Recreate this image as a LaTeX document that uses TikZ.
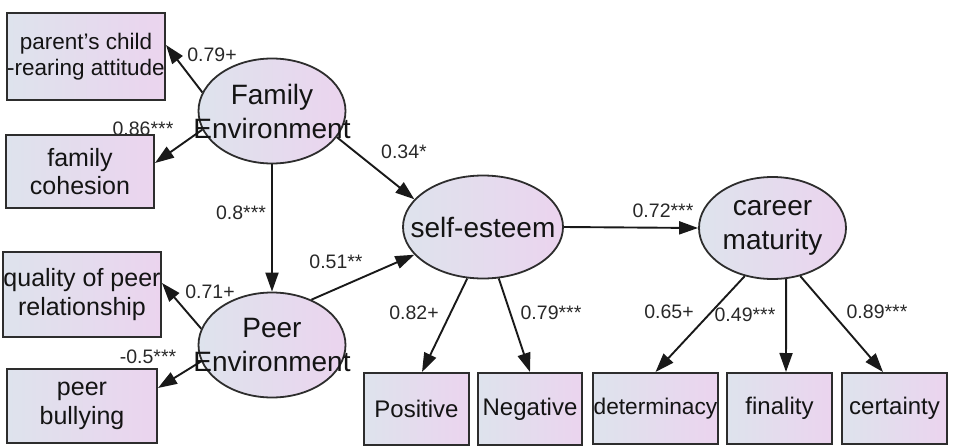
\documentclass[tikz,border=0pt]{standalone}
\usepackage{fontspec}
\setmainfont{Liberation Sans}
\usetikzlibrary{arrows.meta,shapes.geometric}
\definecolor{fillL}{RGB}{222,227,237}
\definecolor{fillR}{RGB}{235,212,238}
\definecolor{edge}{RGB}{45,45,45}
\definecolor{txt}{RGB}{20,20,20}
\definecolor{lbl}{RGB}{40,40,40}
\begin{document}
\begin{tikzpicture}[x=1pt,y=-1pt,
 obs/.style={draw=edge,line width=2pt,left color=fillL,right color=fillR,rectangle,inner sep=0pt,
   font=\fontsize{24}{28.5}\selectfont,text=txt,align=center},
 big/.style={font=\fontsize{25}{28.5}\selectfont},
 lat/.style={draw=edge,line width=1.8pt,left color=fillL,right color=fillR,ellipse,inner sep=0pt},
 lattext/.style={font=\fontsize{28}{34}\selectfont,text=txt,align=center,inner sep=0pt},
 coef/.style={font=\fontsize{19.5}{21}\selectfont,text=lbl,inner sep=0pt},
 arr/.style={draw=black!90,line width=1.9pt,-{Triangle[length=19pt,width=13pt]}}
]
\useasboundingbox (0,0) rectangle (953,447);

% coefficient labels
\node[coef] (l1) at (212,55) {0.79+};
\node[coef] (l2) at (143,129) {0.86***};
\node[coef] (l3) at (241,213) {0.8***};
\node[coef] (l4) at (404,152) {0.34*};
\node[coef] (l5) at (336,262) {0.51**};
\node[coef] (l6) at (210,292) {0.71+};
\node[coef] (l7) at (148,357) {-0.5***};
\node[coef] (l8) at (414,313) {0.82+};
\node[coef] (l9) at (551,313) {0.79***};
\node[coef] (l10) at (663,211) {0.72***};
\node[coef] (l11) at (669,312) {0.65+};
\node[coef] (l12) at (745,315) {0.49***};
\node[coef] (l13) at (877,312) {0.89***};

% observed variables
\node[obs,font=\fontsize{22.5}{25.5}\selectfont,minimum width=158pt,minimum height=87pt] (pc) at (86,56.5) {parent's child\\-rearing attitude};
\node[obs,big,minimum width=148pt,minimum height=73pt] (fc) at (80,171.5) {family\\cohesion};
\node[obs,big,minimum width=158pt,minimum height=85pt] (qp) at (82,294.5) {quality of peer\\relationship};
\node[obs,big,minimum width=150pt,minimum height=74pt] (pb) at (82,406) {peer\\bullying};
\node[obs,minimum width=105pt,minimum height=72pt] (pos) at (416.5,409) {Positive};
\node[obs,minimum width=104pt,minimum height=72pt] (neg) at (530,409) {Negative};
\node[obs,font=\fontsize{22.7}{27}\selectfont,minimum width=125pt,minimum height=71pt] (det) at (655.5,408.5) {determinacy};
\node[obs,minimum width=105pt,minimum height=71pt] (fin) at (779.5,408.5) {finality};
\node[obs,minimum width=105pt,minimum height=71pt] (cer) at (894.5,408.5) {certainty};

% latent variables
\node[lat,minimum width=147pt,minimum height=105pt] (FE) at (272,111) {};
\node[lat,minimum width=147pt,minimum height=105pt] (PE) at (272,345) {};
\node[lat,minimum width=160pt,minimum height=103pt] (SE) at (483,227) {};
\node[lat,minimum width=147pt,minimum height=102pt] (CM) at (772.5,228) {};

% paths
\draw[arr] (FE.165) -- ([yshift=11.5pt]pc.east);
\draw[arr] (FE.195) -- ([yshift=8.5pt]fc.east);
\draw[arr] (FE.south) -- (PE.north);
\draw[arr] (FE.338) -- (SE.158);
\draw[arr] (PE.49) -- (SE.202);
\draw[arr] (PE.167) -- ([yshift=11.5pt]qp.east);
\draw[arr] (PE.193) -- ([yshift=18pt]pb.east);
\draw[arr] (SE.253) -- ([xshift=5.5pt]pos.north);
\draw[arr] (SE.287) -- (neg.north);
\draw[arr] (SE.east) -- (CM.west);
\draw[arr] (CM.240) -- (det.north);
\draw[arr] (CM.285) -- ([xshift=6.5pt]fin.north);
\draw[arr] (CM.300) -- ([xshift=-11.5pt]cer.north);

% latent labels
\node[lattext] (FEt) at (FE) {Family\\Environment};
\node[lattext] (PEt) at (PE) {Peer\\Environment};
\node[lattext] (SEt) at (SE) {self-esteem};
\node[lattext] (CMt) at (CM) {career\\maturity};
\end{tikzpicture}
\end{document}
